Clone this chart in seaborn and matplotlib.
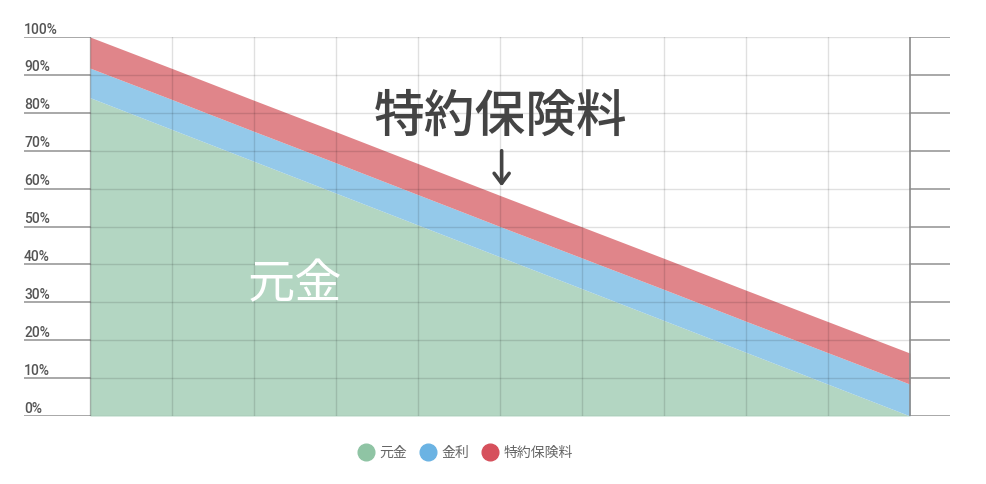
import numpy as np
import pandas as pd
import matplotlib
matplotlib.use("Agg")
import matplotlib.pyplot as plt
from matplotlib.lines import Line2D
import seaborn as sns

# Data (percent)
periods = [0, 1, 2, 3, 4, 5, 6, 7, 8, 9, 10]
principal = [84.0, 75.6, 67.2, 58.8, 50.4, 42.0, 33.6, 25.2, 16.8, 8.4, 0.0]
interest = [7.8, 7.9, 7.9, 8.0, 8.0, 8.0, 8.1, 8.2, 8.2, 8.3, 8.4]
rider = [8.2, 8.2, 8.2, 8.2, 8.2, 8.2, 8.2, 8.2, 8.2, 8.2, 8.2]
series_names = ["元金", "金利", "特約保険料"]
y_ticks = [0, 10, 20, 30, 40, 50, 60, 70, 80, 90, 100]

area_colors = ["#b3d6c2", "#94c9ea", "#e0858a"]
legend_colors = ["#8fc4a4", "#6bb3e3", "#d6505c"]

df = pd.DataFrame({"period": periods, "元金": principal,
                   "金利": interest, "特約保険料": rider})

sns.set_theme(style="white")
plt.rcParams["font.family"] = ["Roboto", "Noto Sans CJK JP", "DejaVu Sans"]

fig = plt.figure(figsize=(9.86, 4.84), dpi=100)
ax = fig.add_axes([24 / 986, 68 / 484, 926 / 986, 379 / 484])

# stacked areas
ax.stackplot(df["period"], df["元金"], df["金利"], df["特約保険料"],
             colors=area_colors, linewidth=0)

x_lo = -66 / 82
x_hi = 10 + 40 / 82
ax.set_xlim(x_lo, x_hi)
ax.set_ylim(0, 100)

# grid lines drawn on top of the areas
for y in y_ticks:
    ax.plot([0, 10], [y, y], color=(0, 0, 0, 0.12), lw=1, zorder=5)
    ax.plot([x_lo, 0], [y, y], color="#9a9a9a", lw=1.2, zorder=5)
    ax.plot([10, x_hi], [y, y], color="#9a9a9a", lw=1.2, zorder=5)
    ax.text(x_lo, y + 0.9, f"{y}%", fontsize=10, color="#555555",
            fontweight="medium", ha="left", va="baseline", zorder=6)
for x in periods[1:-1]:
    ax.plot([x, x], [0, 100], color=(0, 0, 0, 0.12), lw=1, zorder=5)
ax.plot([0, 0], [0, 100], color=(0, 0, 0, 0.25), lw=1, zorder=5)
ax.plot([10, 10], [0, 100], color="#8a8a8a", lw=1.2, zorder=5)

for s in ax.spines.values():
    s.set_visible(False)
ax.set_xticks([])
ax.set_yticks([])

# annotations
ax.text(5.01, 79.0, "特約保険料", fontsize=36.5, color="#444444",
        fontweight="medium", ha="center", va="center",
        family=["Noto Sans CJK JP"], zorder=7)
ax.annotate("", xy=(5.02, 60.6), xytext=(5.02, 70.0),
            arrowprops=dict(arrowstyle="->,head_length=0.6,head_width=0.45",
                            color="#444444", lw=2.6, shrinkA=0, shrinkB=0),
            zorder=7)
ax.text(2.5, 34.5, "元金", fontsize=34, color="white",
        ha="center", va="center", family=["Noto Sans CJK JP"], zorder=7)

handles = [Line2D([0], [0], marker="o", linestyle="", markersize=12,
                  markerfacecolor=c, markeredgecolor=c) for c in legend_colors]
fig.legend(handles, series_names, loc="center", ncol=3,
           bbox_to_anchor=(466 / 986, 31 / 484), frameon=False,
           fontsize=10, labelcolor="#666666", handletextpad=0.45,
           columnspacing=1.0, handlelength=1.0)

fig.savefig("out.png", dpi=100)
